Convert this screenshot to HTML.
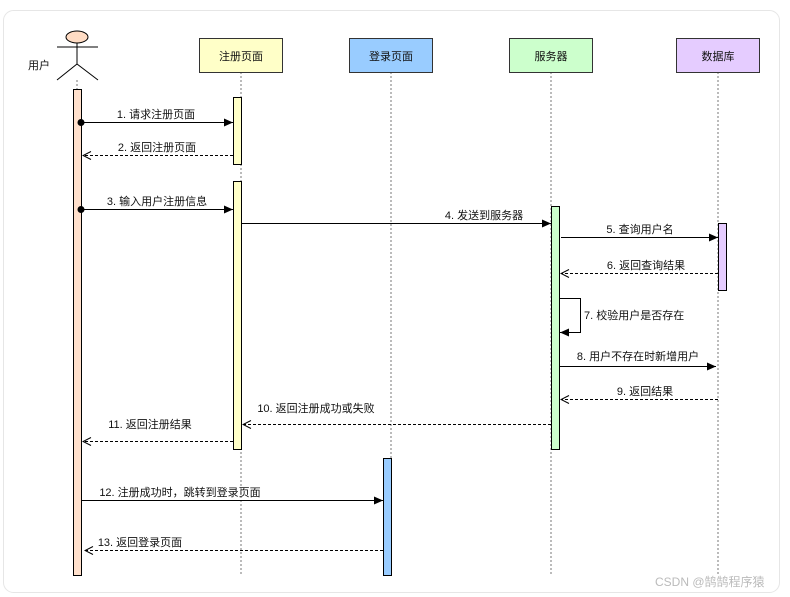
<!DOCTYPE html>
<html><head><meta charset="utf-8"><style>
html,body{margin:0;padding:0;background:#fff;}
svg{display:block;}
text{font-family:"Liberation Sans","Noto Sans CJK SC",sans-serif;font-size:11px;fill:#111;}
</style></head><body>
<svg width="790" height="597" viewBox="0 0 790 597" xmlns="http://www.w3.org/2000/svg">
<defs>
<marker id="f" markerWidth="10" markerHeight="8" refX="9" refY="4" orient="auto" markerUnits="userSpaceOnUse"><path d="M0,0 L9,4 L0,8 z" fill="#000"/></marker>
<marker id="o" markerWidth="10" markerHeight="10" refX="9" refY="5" orient="auto" markerUnits="userSpaceOnUse"><path d="M1,1 L9,5 L1,9" fill="none" stroke="#000" stroke-width="1"/></marker>
</defs>
<rect x="3.5" y="10.5" width="776" height="582" rx="10" fill="#fff" stroke="#e6e6e6"/>
<g stroke="#777" stroke-dasharray="2,2" stroke-width="1">
<line x1="241" y1="72" x2="241" y2="575"/>
<line x1="391" y1="72" x2="391" y2="575"/>
<line x1="551" y1="72" x2="551" y2="575"/>
<line x1="718" y1="72" x2="718" y2="575"/>
<line x1="77" y1="80" x2="77" y2="89"/>
</g>
<ellipse cx="77" cy="37" rx="11" ry="6" fill="#ffdcc4" stroke="#000"/>
<g stroke="#000" fill="none"><line x1="57" y1="47" x2="98" y2="47"/><line x1="77" y1="43" x2="77" y2="64"/><path d="M57,80 L77,64 L98,80"/></g>
<text x="28" y="69">用户</text>
<rect x="199.5" y="38.5" width="83" height="34" fill="#ffffc8" stroke="#333"/><text x="241" y="60" text-anchor="middle">注册页面</text>
<rect x="349.5" y="38.5" width="83" height="34" fill="#99ccff" stroke="#333"/><text x="391" y="60" text-anchor="middle">登录页面</text>
<rect x="509.5" y="38.5" width="83" height="34" fill="#ccffcc" stroke="#333"/><text x="551" y="60" text-anchor="middle">服务器</text>
<rect x="676.5" y="38.5" width="83" height="34" fill="#e5ccff" stroke="#333"/><text x="718" y="60" text-anchor="middle">数据库</text>
<g stroke="#000">
<rect x="73.5" y="89.5" width="8" height="486" fill="#ffe0cc"/>
<rect x="233.5" y="97.5" width="8" height="67" fill="#ffffc8"/>
<rect x="233.5" y="181.5" width="8" height="268" fill="#ffffc8"/>
<rect x="383.5" y="458.5" width="8" height="117" fill="#99ccff"/>
<rect x="551.5" y="206.5" width="8" height="243" fill="#ccffcc"/>
<rect x="718.5" y="223.5" width="8" height="67" fill="#e5ccff"/>
</g>
<g stroke="#000" fill="none">
<line x1="81" y1="122.5" x2="233" y2="122.5" marker-end="url(#f)"/>
<line x1="233" y1="155.5" x2="83" y2="155.5" stroke-dasharray="3,2" marker-end="url(#o)"/>
<line x1="81" y1="209.5" x2="233" y2="209.5" marker-end="url(#f)"/>
<line x1="241" y1="223.5" x2="551" y2="223.5" marker-end="url(#f)"/>
<line x1="561" y1="237.5" x2="718" y2="237.5" marker-end="url(#f)"/>
<line x1="718" y1="273.5" x2="561" y2="273.5" stroke-dasharray="3,2" marker-end="url(#o)"/>
<path d="M559,298.5 H580.5 V332.5 H560" marker-end="url(#f)"/>
<line x1="559" y1="366.5" x2="716" y2="366.5" marker-end="url(#f)"/>
<line x1="718" y1="399.5" x2="561" y2="399.5" stroke-dasharray="3,2" marker-end="url(#o)"/>
<line x1="551" y1="424.5" x2="243" y2="424.5" stroke-dasharray="3,2" marker-end="url(#o)"/>
<line x1="233" y1="441.5" x2="83" y2="441.5" stroke-dasharray="3,2" marker-end="url(#o)"/>
<line x1="81" y1="500.5" x2="383" y2="500.5" marker-end="url(#f)"/>
<line x1="383" y1="550.5" x2="85" y2="550.5" stroke-dasharray="3,2" marker-end="url(#o)"/>
</g>
<circle cx="81" cy="122.5" r="3.5" fill="#000"/>
<circle cx="81" cy="209.5" r="3.5" fill="#000"/>
<text x="156" y="118" text-anchor="middle">1. 请求注册页面</text>
<text x="157" y="151" text-anchor="middle">2. 返回注册页面</text>
<text x="157" y="205" text-anchor="middle">3. 输入用户注册信息</text>
<text x="484" y="219" text-anchor="middle">4. 发送到服务器</text>
<text x="640" y="233" text-anchor="middle">5. 查询用户名</text>
<text x="646" y="269" text-anchor="middle">6. 返回查询结果</text>
<text x="584" y="319">7. 校验用户是否存在</text>
<text x="638" y="360" text-anchor="middle">8. 用户不存在时新增用户</text>
<text x="645" y="395" text-anchor="middle">9. 返回结果</text>
<text x="316" y="412" text-anchor="middle">10. 返回注册成功或失败</text>
<text x="150" y="428" text-anchor="middle">11. 返回注册结果</text>
<text x="180" y="496" text-anchor="middle">12. 注册成功时，跳转到登录页面</text>
<text x="140" y="546" text-anchor="middle">13. 返回登录页面</text>
<text x="655" y="586" style="fill:#bbb;font-size:12px">CSDN @鹄鹄程序猿</text>
</svg>
</body></html>
